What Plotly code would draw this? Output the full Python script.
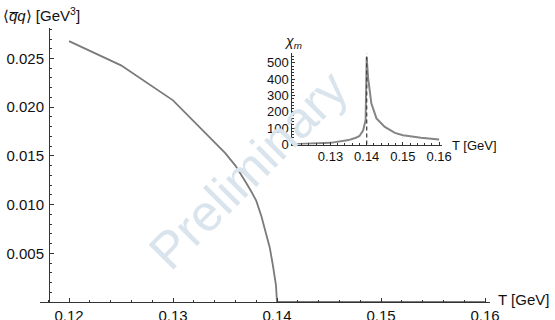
import plotly.graph_objects as go

# Main panel: chiral condensate vs temperature
T_main = [0.12, 0.125, 0.13, 0.135, 0.136, 0.1365, 0.137, 0.1375, 0.138, 0.1385, 0.139,
          0.1393, 0.1396, 0.1398, 0.1399, 0.14, 0.16]
cond = [0.02678, 0.0243, 0.0207, 0.0153, 0.0140, 0.0132, 0.0123, 0.0114, 0.0104, 0.0088, 0.0069,
        0.0056, 0.0038, 0.0025, 0.0017, 0.0, 0.0]

# Inset: chiral susceptibility
T_inset = [0.1195, 0.125, 0.13, 0.135, 0.136, 0.137, 0.138, 0.139, 0.1397, 0.14, 0.1404, 0.1413,
           0.1427, 0.145, 0.1478, 0.15, 0.155, 0.16]
chi = [1, 4, 10, 27, 33, 41, 52, 85, 149, 534, 405, 251, 160, 108, 71, 57, 42, 31]
Tc = 0.14
chi_top = 559

main_xticks = [0.12, 0.13, 0.14, 0.15, 0.16]
main_yticks = [0.005, 0.010, 0.015, 0.020, 0.025]
inset_xticks = [0.13, 0.14, 0.15, 0.16]
inset_yticks = [0, 100, 200, 300, 400, 500]

FONT = "Liberation Sans, Arial, sans-serif"
AX = "#333333"

fig = go.Figure()
fig.add_trace(go.Scatter(x=T_main, y=cond, mode="lines",
                         line=dict(color="#7a7a7a", width=1.8), xaxis="x", yaxis="y",
                         hoverinfo="skip"))
fig.add_trace(go.Scatter(x=T_inset, y=chi, mode="lines",
                         line=dict(color="#858585", width=2), xaxis="x2", yaxis="y2",
                         hoverinfo="skip"))
fig.add_trace(go.Scatter(x=[Tc, Tc], y=[0, chi_top], mode="lines",
                         line=dict(color="#444444", width=1.3, dash="4px,3px"),
                         xaxis="x2", yaxis="y2", hoverinfo="skip"))

W, H = 555, 320
L, R, T, B = 40, 65, 28, 18
pw, ph = W - L - R, H - T - B

def px(xp):
    return (xp - L) / pw

def py(yp):
    return (H - B - yp) / ph

tickfont_main = dict(family=FONT, size=15, color="#111111")
tickfont_inset = dict(family=FONT, size=13, color="#111111")

fig.update_layout(
    width=W, height=H,
    margin=dict(l=L, r=R, t=T, b=B, autoexpand=False),
    paper_bgcolor="white", plot_bgcolor="white",
    showlegend=False,
    xaxis=dict(domain=[0, 1], range=[0.11721, 0.16048], tickvals=main_xticks,
               ticktext=["0.12", "0.13", "0.14", "0.15", "0.16"],
               ticks="inside", ticklen=4, tickcolor=AX, tickwidth=1,
               minor=dict(dtick=0.002, ticks="inside", ticklen=2, tickcolor=AX),
               showline=True, linecolor=AX, linewidth=1, showgrid=False, zeroline=False,
               tickfont=tickfont_main, anchor="y", automargin=False, ticklabelstandoff=0),
    yaxis=dict(domain=[0, 1], range=[0, 0.02813], tickvals=main_yticks,
               ticktext=["0.005", "0.010", "0.015", "0.020", "0.025"],
               ticks="inside", ticklen=4, tickcolor=AX, tickwidth=1,
               minor=dict(dtick=0.001, ticks="inside", ticklen=2, tickcolor=AX),
               showline=True, linecolor=AX, linewidth=1, showgrid=False, zeroline=False,
               tickfont=tickfont_main, anchor="free", position=px(49), automargin=False,
               ticklabelstandoff=2),
    xaxis2=dict(domain=[px(292.3), px(441.7)], range=[0.11945, 0.16072], tickvals=inset_xticks,
                ticktext=["0.13", "0.14", "0.15", "0.16"],
                ticks="inside", ticklen=3, tickcolor=AX,
                minor=dict(dtick=0.002, ticks="inside", ticklen=1.5, tickcolor=AX),
                showline=True, linecolor=AX, linewidth=1, showgrid=False, zeroline=False,
                tickfont=tickfont_inset, anchor="y2", automargin=False, ticklabelstandoff=0),
    yaxis2=dict(domain=[py(144.5), py(53.3)], range=[0, chi_top], tickvals=inset_yticks,
                ticks="inside", ticklen=3, tickcolor=AX,
                minor=dict(dtick=20, ticks="inside", ticklen=1.5, tickcolor=AX),
                showline=True, linecolor=AX, linewidth=1, showgrid=False, zeroline=False,
                tickfont=tickfont_inset, anchor="x2", automargin=False, ticklabelstandoff=0),
)

ann = [
    dict(text="Preliminary", x=px(249), y=py(170), textangle=-45,
         font=dict(family=FONT, size=51, color="#dae4ed"), xanchor="center", yanchor="middle"),
    dict(text="⟨<i>q̅q</i>⟩ [GeV<sup>3</sup>]", x=px(1), y=py(15), xanchor="left", yanchor="middle",
         font=dict(family=FONT, size=15, color="#111111")),
    dict(text="T [GeV]", x=px(496), y=py(299), xanchor="left", yanchor="middle",
         font=dict(family=FONT, size=15, color="#111111")),
    dict(text="<i>χ<sub>m</sub></i>", x=px(282), y=py(42), xanchor="left", yanchor="middle",
         font=dict(family=FONT, size=14, color="#111111")),
    dict(text="T [GeV]", x=px(450), y=py(145.5), xanchor="left", yanchor="middle",
         font=dict(family=FONT, size=13, color="#111111")),
]
for a in ann:
    a.update(xref="paper", yref="paper", showarrow=False)
fig.update_layout(annotations=ann)

fig.write_html("out.html", config={"displayModeBar": False},
               post_script="document.body.style.margin='0';document.body.style.padding='0';")
